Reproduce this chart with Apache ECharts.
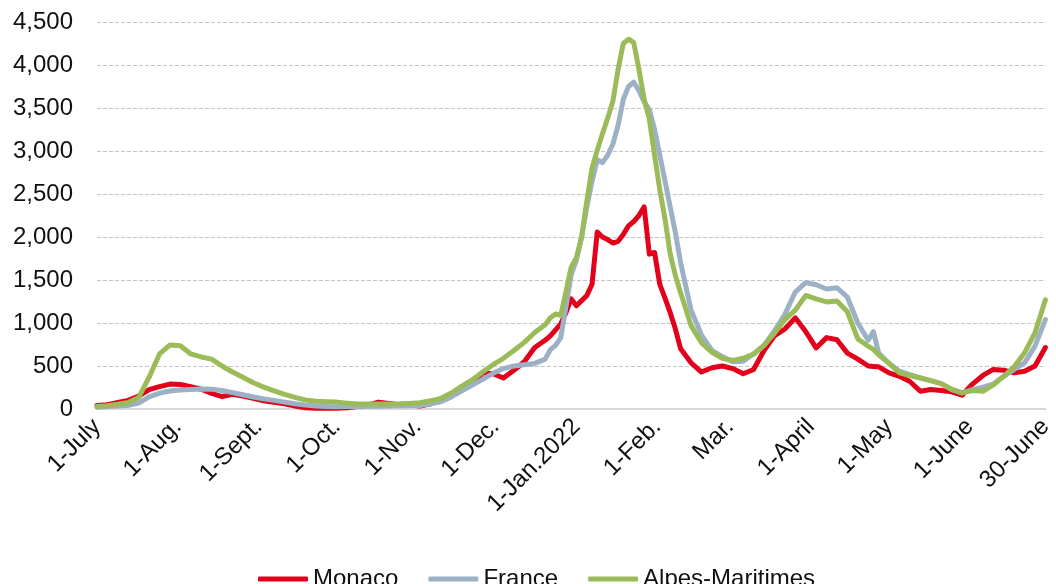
<!DOCTYPE html>
<html>
<head>
<meta charset="utf-8">
<script src="https://cdn.jsdelivr.net/npm/echarts@6/dist/echarts.min.js"></script>
<style>
  html, body { margin: 0; padding: 0; background: #fff; }
  #chart { width: 1056px; height: 584px; }
</style>
</head>
<body>
<div id="chart"></div>
<script>
// days counted from 1 July 2021
var days = [0,4,8,12,16,20,24,28,32,36,40,44,48,52,56,60,64,68,72,76,80,84,88,92,96,100,104,108,112,116,120,124,128,132,136,140,144,148,152,156,160,164,168,172,
  174,176,178,180,182,184,186,188,190,192,194,196,198,200,202,204,206,208,210,212,214,216,218,220,222,
  224,228,232,236,240,244,248,252,256,260,264,268,272,276,280,284,288,292,296,298,300,304,308,312,316,320,324,328,332,336,340,344,348,352,356,360,364];

var monaco = [40,50,75,100,150,225,260,290,285,260,230,182,145,170,150,125,95,78,60,35,15,8,8,10,15,30,45,80,65,50,45,35,60,105,160,215,298,420,410,360,450,550,715,800,
  850,919,990,1120,1280,1200,1260,1320,1450,2058,2000,1970,1930,1950,2030,2130,2180,2250,2350,1800,1820,1450,1290,1120,930,
  700,537,430,480,500,470,410,460,680,850,930,1060,900,710,830,805,650,580,500,495,490,420,380,320,206,226,215,200,160,290,390,460,450,420,439,500,715];

var france = [20,28,35,42,70,140,185,210,220,228,232,230,215,190,165,140,118,100,80,60,45,35,28,27,28,30,32,33,35,37,38,40,60,85,140,210,279,345,415,470,500,515,530,580,
  690,740,830,1190,1560,1730,2000,2350,2650,2900,2865,2950,3080,3300,3600,3750,3800,3700,3570,3480,3250,2950,2650,2350,2050,
  1700,1150,860,680,610,550,556,640,740,906,1100,1360,1469,1445,1395,1410,1300,1000,800,900,650,530,440,400,362,330,295,226,187,225,255,290,380,460,537,731,1040];

var alpes = [30,38,55,75,135,370,640,745,735,640,605,580,500,430,370,305,255,210,170,135,105,90,85,80,68,58,58,58,58,60,65,72,95,124,185,265,337,430,515,590,680,775,890,980,
  1060,1105,1090,1365,1650,1760,2000,2420,2800,3010,3200,3380,3580,3950,4250,4300,4260,3950,3600,3370,2950,2550,2210,1800,1550,
  1350,970,770,660,590,565,590,640,740,880,1040,1150,1320,1280,1245,1255,1130,815,730,692,630,530,420,390,360,330,295,230,187,215,205,280,380,490,653,886,1270];

var tickDays = [0,31,62,92,123,153,184,215,243,274,304,335,364];
var tickNames = ["1-July","1-Aug.","1-Sept.","1-Oct.","1-Nov.","1-Dec.","1-Jan.2022","1-Feb.","Mar.","1-April","1-May","1-June","30-June"];

var font = "'Liberation Sans', Arial, sans-serif";

function pairs(vals) {
  return days.map(function (d, i) { return [d, vals[i]]; });
}

var chart = echarts.init(document.getElementById("chart"), null, { renderer: "canvas" });
chart.setOption({
  animation: false,
  textStyle: { fontFamily: font },
  grid: { left: 97, right: 2, top: 22, bottom: 175 },
  legend: {
    left: 253,
    top: 562,
    itemWidth: 50,
    itemHeight: 5,
    itemGap: 30,
    icon: "roundRect",
    textStyle: { fontSize: 24, color: "#111", fontFamily: font },
    data: ["Monaco", "France", "Alpes-Maritimes"]
  },
  xAxis: {
    type: "value",
    min: 0,
    max: 364,
    splitLine: { show: false },
    axisTick: { show: false },
    axisLine: { show: true, lineStyle: { color: "#d9d9d9", width: 2 } },
    axisLabel: {
      customValues: tickDays,
      rotate: 45,
      margin: 14,
      fontSize: 24,
      color: "#111",
      fontFamily: font,
      formatter: function (v) {
        var i = tickDays.indexOf(Math.round(v));
        return i >= 0 ? tickNames[i] : "";
      }
    }
  },
  yAxis: {
    type: "value",
    min: 0,
    max: 4500,
    interval: 500,
    axisLine: { show: false },
    axisTick: { show: false },
    axisLabel: {
      margin: 24,
      fontSize: 24,
      color: "#111",
      fontFamily: font,
      formatter: function (v) { return v.toLocaleString("en-US"); }
    },
    splitLine: { lineStyle: { type: [4, 2], color: "#c4c4c4", width: 1 } }
  },
  series: [
    {
      name: "Monaco",
      type: "line",
      symbol: "none",
      color: "#e2001a",
      lineStyle: { width: 5, color: "#e2001a", join: "round", cap: "round" },
      data: pairs(monaco)
    },
    {
      name: "France",
      type: "line",
      symbol: "none",
      color: "#9cb1c5",
      lineStyle: { width: 5, color: "#9cb1c5", join: "round", cap: "round" },
      data: pairs(france)
    },
    {
      name: "Alpes-Maritimes",
      type: "line",
      symbol: "none",
      color: "#9bbb59",
      lineStyle: { width: 5, color: "#9bbb59", join: "round", cap: "round" },
      data: pairs(alpes)
    }
  ]
});
</script>
</body>
</html>
